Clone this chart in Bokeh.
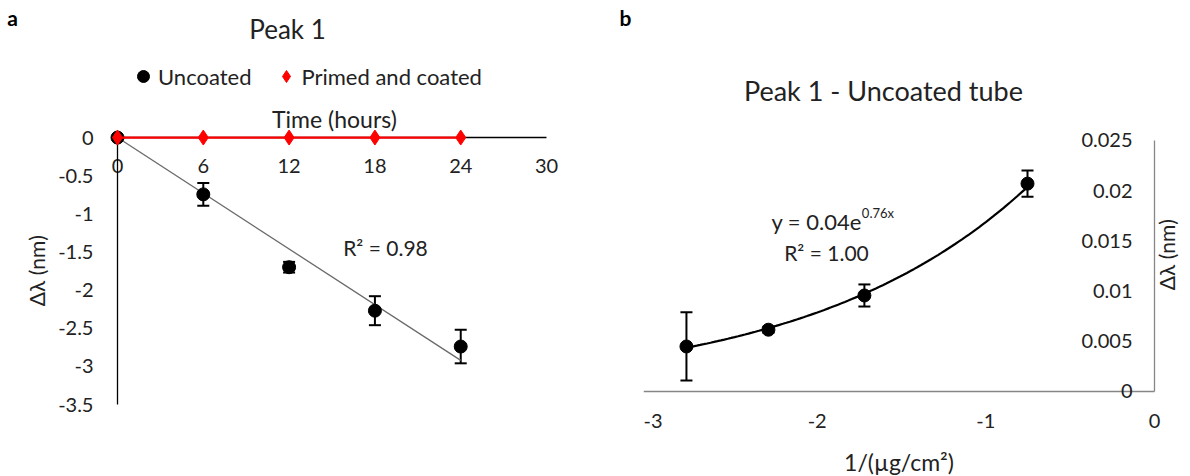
import numpy as np
from bokeh.plotting import figure
from bokeh.models import (Range1d, LinearAxis, FixedTicker, CustomJSTickFormatter, Label,
                          Legend, LegendItem, Whisker, ColumnDataSource, TeeHead)
from bokeh.layouts import row
from bokeh.embed import file_html
from bokeh.resources import INLINE

FONT = "Lato"

# ---------------- data: panel a ----------------
time_hours = [0, 6, 12, 18, 24]
uncoated_shift = [0.0, -0.745, -1.70, -2.27, -2.74]
uncoated_err = [0.0, 0.15, 0.07, 0.19, 0.22]
primed_shift = [0.0, 0.0, 0.0, 0.0, 0.0]
a_xticks = [0, 6, 12, 18, 24, 30]
a_yticks = [0, -0.5, -1, -1.5, -2, -2.5, -3, -3.5]

# ---------------- data: panel b ----------------
inv_conc = [-2.775, -2.289, -1.720, -0.753]
b_shift = [0.00448, 0.00615, 0.00956, 0.0207]
b_err = [0.0034, 0.0003, 0.0011, 0.0013]
b_xticks = [-3, -2, -1, 0]
b_yticks = [0, 0.005, 0.01, 0.015, 0.02, 0.025]

fmt_code = "return Number(tick.toFixed(4)).toString();"


def style_axis(ax, color):
    ax.major_tick_line_color = None
    ax.minor_tick_line_color = None
    ax.major_tick_out = 0
    ax.major_tick_in = 0
    ax.minor_tick_out = 0
    ax.axis_line_color = color
    ax.axis_line_width = 1.3
    ax.major_label_text_font = FONT
    ax.major_label_text_font_size = "20px"
    ax.major_label_text_color = "#222222"
    ax.axis_label_text_font = FONT
    ax.axis_label_text_font_style = "normal"
    ax.axis_label_text_color = "#222222"


def lab(p, x, y, text, size, **kw):
    p.add_layout(Label(x=x, y=y, text=text, text_font=FONT, text_font_size=size,
                       text_color=kw.pop("color", "#222222"), text_align=kw.pop("align", "center"),
                       text_baseline=kw.pop("baseline", "middle"), **kw))


# ================= panel a =================
pa = figure(width=643, height=476, x_range=Range1d(-8.18, 36.78), y_range=Range1d(-4.444, 1.797),
            output_backend="svg", toolbar_location=None, x_axis_type=None, y_axis_type=None,
            min_border_left=0, min_border_right=0, min_border_top=0, min_border_bottom=0)
pa.outline_line_color = None
pa.xgrid.visible = False
pa.ygrid.visible = False

xa = LinearAxis(fixed_location=0, bounds=(0, 30), ticker=FixedTicker(ticks=a_xticks),
                formatter=CustomJSTickFormatter(code=fmt_code))
ya = LinearAxis(fixed_location=0, bounds=(-3.5, 0), ticker=FixedTicker(ticks=a_yticks),
                formatter=CustomJSTickFormatter(code=fmt_code), axis_label="Δλ (nm)")
style_axis(xa, "black")
style_axis(ya, "black")
ya.axis_label_text_font_size = "21px"
xa.major_label_standoff = 21
ya.major_label_standoff = 24
ya.axis_label_standoff = 6
pa.add_layout(xa, "below")
pa.add_layout(ya, "left")

# trendline through origin, least squares
tx = np.array(time_hours, dtype=float)
ty = np.array(uncoated_shift, dtype=float)
slope = float((tx * ty).sum() / (tx * tx).sum())
pa.line([0, tx.max()], [0, slope * tx.max()], line_color="#6a6a6a", line_width=1.3)

src_a = ColumnDataSource(dict(x=time_hours[1:],
                              upper=[v + e for v, e in zip(uncoated_shift[1:], uncoated_err[1:])],
                              lower=[v - e for v, e in zip(uncoated_shift[1:], uncoated_err[1:])]))
pa.add_layout(Whisker(source=src_a, base="x", upper="upper", lower="lower", dimension="height",
                      line_color="black", line_width=2,
                      upper_head=TeeHead(size=12, line_width=2, line_color="black"),
                      lower_head=TeeHead(size=12, line_width=2, line_color="black")))
r_unc = pa.scatter(time_hours, uncoated_shift, marker="circle", size=13, fill_color="black",
                   line_color="black", level="overlay")
pa.line(time_hours, primed_shift, line_color="#ff0000", line_width=2.2, level="overlay")
r_pri = pa.scatter(time_hours, primed_shift, marker="diamond", size=15, fill_color="#ff0000",
                   line_color="#ff0000", level="overlay")

legend = Legend(items=[LegendItem(label="Uncoated", renderers=[r_unc]),
                       LegendItem(label="Primed and coated", renderers=[r_pri])],
                orientation="horizontal", location=(128, 385))
legend.label_text_font = FONT
legend.label_text_font_size = "22px"
legend.label_text_color = "#222222"
legend.glyph_width = 30
legend.glyph_height = 30
legend.label_standoff = 0
legend.spacing = 20
legend.padding = 0
legend.margin = 0
legend.border_line_color = None
legend.background_fill_alpha = 0
pa.add_layout(legend)

lab(pa, 11.89, 1.429, "Peak 1", "26px")
lab(pa, -7.34, 1.573, "a", "21px", text_font_style="bold", color="black")
lab(pa, 35.52, 1.573, "b", "21px", text_font_style="bold", color="black")
lab(pa, 15.17, 0.249, "Time (hours)", "23px")
lab(pa, 18.74, -1.442, "R² = 0.98", "21px")

# ================= panel b =================
pb = figure(width=547, height=476, x_range=Range1d(-3.0296, 0.2134), y_range=Range1d(-0.00847, 0.03894),
            output_backend="svg", toolbar_location=None, x_axis_type=None, y_axis_type=None,
            min_border_left=0, min_border_right=0, min_border_top=0, min_border_bottom=0)
pb.outline_line_color = None
pb.xgrid.visible = False
pb.ygrid.visible = False

xb = LinearAxis(fixed_location=0, bounds=(-3.0296, 0), ticker=FixedTicker(ticks=b_xticks),
                formatter=CustomJSTickFormatter(code=fmt_code), axis_label="1/(µg/cm²)")
yb = LinearAxis(fixed_location=0, bounds=(0, 0.025), ticker=FixedTicker(ticks=b_yticks),
                formatter=CustomJSTickFormatter(code=fmt_code))
style_axis(xb, "#868686")
style_axis(yb, "#868686")
xb.axis_label_text_font_size = "23px"
xb.major_label_standoff = 23
xb.axis_label_standoff = 16
yb.major_label_standoff = 22
pb.add_layout(xb, "below")
pb.add_layout(yb, "left")

bx = np.array(inv_conc)
by = np.array(b_shift)
k, lna = np.polyfit(bx, np.log(by), 1)
cx = np.linspace(bx.min(), bx.max(), 100)
pb.line(cx, np.exp(lna) * np.exp(k * cx), line_color="black", line_width=2.2)

src_b = ColumnDataSource(dict(x=inv_conc,
                              upper=[v + e for v, e in zip(b_shift, b_err)],
                              lower=[v - e for v, e in zip(b_shift, b_err)]))
pb.add_layout(Whisker(source=src_b, base="x", upper="upper", lower="lower", dimension="height",
                      line_color="black", line_width=2,
                      upper_head=TeeHead(size=12, line_width=2, line_color="black"),
                      lower_head=TeeHead(size=12, line_width=2, line_color="black")))
pb.scatter(inv_conc, b_shift, marker="circle", size=13, fill_color="black", line_color="black")

lab(pb, -1.607, 0.02998, "Peak 1 - Uncoated tube", "27px")
lab(pb, -1.735, 0.01695, "y = 0.04e", "22px", align="right")
lab(pb, -1.735, 0.01775, "0.76x", "13px", align="left")
lab(pb, -1.945, 0.01380, "R² = 1.00", "21px")
lab(pb, 0.07, 0.0136, "Δλ (nm)", "21px", angle=np.pi / 2)

layout = row(pa, pb)
open("out.html", "w").write(file_html(layout, INLINE))
